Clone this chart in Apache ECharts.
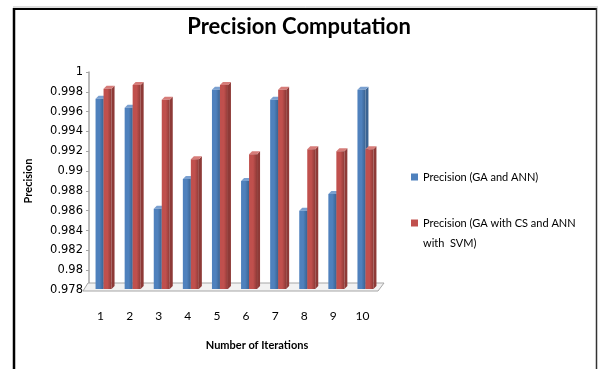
<!DOCTYPE html>
<html>
<head>
<meta charset="utf-8">
<script src="https://cdn.jsdelivr.net/npm/echarts@6/dist/echarts.min.js"></script>
<style>
  html, body { margin: 0; padding: 0; background: #fff; }
  #chart { width: 598px; height: 369px; }
</style>
</head>
<body>
<div id="chart"></div>
<script>
// Iterations on the x axis
const iterations = ['1', '2', '3', '4', '5', '6', '7', '8', '9', '10'];
// Precision per iteration for the two approaches
const precisionGaAnn = [0.9973, 0.9964, 0.9862, 0.9892, 0.9982, 0.9890, 0.9972, 0.9860, 0.9877, 0.9982];
const precisionGaCsAnnSvm = [0.9983, 0.9987, 0.9972, 0.9912, 0.9987, 0.9917, 0.9982, 0.9922, 0.9920, 0.9922];
const seriesNames = ['Precision (GA and ANN)', 'Precision (GA with CS and ANN with  SVM)'];
// Value axis range
const yMin = 0.978, yMax = 1, yStep = 0.002;

const FONT = 'Lato';
const BAR_W = 8, DEPTH = 3;
const palette = [
  { front: '#4f81bd', side: '#3a6392', top: '#7aa0d0' },
  { front: '#c0504d', side: '#8e3a37', top: '#d67c79' }
];

function bar3d(k) {
  return function (params, api) {
    const i = api.value(0);
    const v = api.value(1);
    const top = api.coord([i, v]);
    const base = api.coord([i, yMin]);
    const x0 = top[0] + (k === 0 ? -BAR_W : 0);
    const x1 = x0 + BAR_W;
    const yt = top[1], yb = base[1] - 1;
    const c = palette[k];
    return {
      type: 'group',
      children: [
        { type: 'polygon', shape: { points: [[x1, yt], [x1 + DEPTH, yt - DEPTH], [x1 + DEPTH, yb - DEPTH], [x1, yb]] },
          style: { fill: c.side } },
        { type: 'polygon', shape: { points: [[x0, yt], [x0 + DEPTH, yt - DEPTH], [x1 + DEPTH, yt - DEPTH], [x1, yt]] },
          style: { fill: c.top } },
        { type: 'rect', shape: { x: x0, y: yt, width: BAR_W, height: yb - yt },
          style: { fill: {
            type: 'linear', x: 0, y: 0, x2: 1, y2: 0,
            colorStops: [{ offset: 0, color: c.front }, { offset: 0.5, color: c.front }, { offset: 1, color: c.side }]
          } } }
      ]
    };
  };
}

// Thin 3D floor under the bars, sized from the grid box
function floorItem(params) {
  const g = params.coordSys;
  const yb = g.y + g.height;
  return {
    type: 'polygon',
    shape: { points: [[g.x - 6, yb + 1], [g.x + g.width - 2, yb + 1], [g.x + g.width + 4, yb - 7], [g.x - 1, yb - 7]] },
    style: { fill: '#f2f2f2', stroke: '#a6a6a6', lineWidth: 1 }
  };
}

const chart = echarts.init(document.getElementById('chart'));
chart.setOption({
  animation: false,
  backgroundColor: '#fff',
  title: {
    text: 'Precision Computation',
    left: 'center',
    top: 11,
    textStyle: { fontFamily: FONT, fontWeight: 'bold', fontSize: 22, color: '#000' }
  },
  legend: {
    orient: 'vertical',
    left: 406,
    top: 162,
    itemGap: 6,
    itemWidth: 7,
    itemHeight: 7,
    icon: 'rect',
    data: seriesNames,
    formatter: function (name) {
      return name === seriesNames[1] ? ' \nPrecision (GA with CS and ANN\nwith  SVM)' : name;
    },
    textStyle: { fontFamily: FONT, fontSize: 11, color: '#000', lineHeight: 20 }
  },
  grid: { left: 89, right: 218, top: 72, bottom: 79, containLabel: false },
  xAxis: {
    type: 'category',
    data: iterations,
    name: 'Number of Iterations',
    nameLocation: 'middle',
    nameGap: 50,
    nameTextStyle: { fontFamily: FONT, fontWeight: 'bold', fontSize: 11, color: '#000', padding: [0, 0, 0, 45] },
    axisLine: { show: false },
    axisTick: { show: false },
    axisLabel: { margin: 20, fontFamily: FONT, fontSize: 12, color: '#000', padding: [0, 6, 0, 0] }
  },
  yAxis: {
    type: 'value',
    min: yMin,
    max: yMax,
    interval: yStep,
    name: 'Precision',
    nameLocation: 'middle',
    nameGap: 55,
    nameTextStyle: { fontFamily: FONT, fontWeight: 'bold', fontSize: 11, color: '#000' },
    axisLine: { show: true, lineStyle: { color: '#a6a6a6', width: 1.5 } },
    axisTick: { show: true, length: 3, lineStyle: { color: '#a6a6a6' } },
    splitLine: { show: false },
    axisLabel: {
      margin: 6, fontFamily: 'DejaVu Sans', fontSize: 11.5, color: '#000',
      formatter: function (v) { return String(parseFloat(v.toFixed(3))); }
    }
  },
  series: [
    {
      type: 'custom', name: 'floor', silent: true, z: 1,
      renderItem: floorItem,
      data: [[0, yMin]]
    },
    {
      type: 'custom', name: seriesNames[0], z: 2,
      itemStyle: { color: palette[0].front },
      encode: { x: 0, y: 1 },
      renderItem: bar3d(0),
      data: precisionGaAnn.map((v, i) => [i, v])
    },
    {
      type: 'custom', name: seriesNames[1], z: 3,
      itemStyle: { color: palette[1].front },
      encode: { x: 0, y: 1 },
      renderItem: bar3d(1),
      data: precisionGaCsAnnSvm.map((v, i) => [i, v])
    }
  ],
  graphic: [
    { type: 'line', shape: { x1: 13, y1: 7, x2: 598, y2: 7 }, style: { stroke: '#bdbdbd', lineWidth: 1 } },
    { type: 'line', shape: { x1: 13, y1: 9, x2: 597, y2: 9 }, style: { stroke: '#000', lineWidth: 2 } },
    { type: 'line', shape: { x1: 14, y1: 8, x2: 14, y2: 369 }, style: { stroke: '#000', lineWidth: 2.5 } },
    { type: 'line', shape: { x1: 596.5, y1: 8, x2: 596.5, y2: 369 }, style: { stroke: '#333', lineWidth: 1.5 } }
  ]
});
</script>
</body>
</html>
